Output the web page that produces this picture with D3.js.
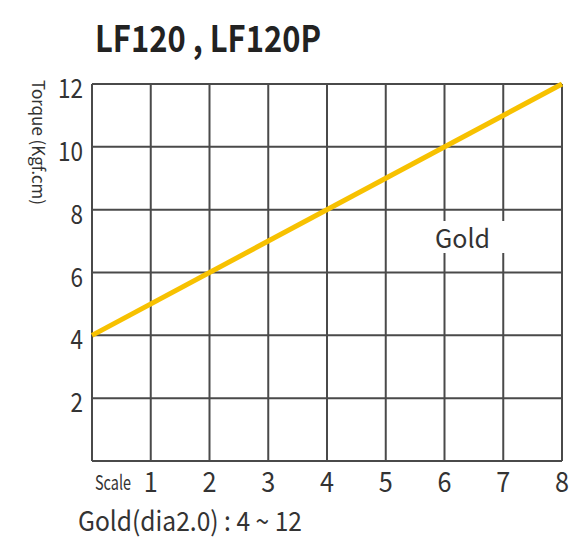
<!DOCTYPE html>
<html>
<head>
<meta charset="utf-8">
<script src="https://cdn.jsdelivr.net/npm/d3@7"></script>
<style>
body{margin:0;background:#fff}
text{font-family:"Noto Sans CJK KR","Noto Sans",sans-serif;fill:#333}
</style>
</head>
<body>
<div id="chart"></div>
<script>
// chart data
var title = "LF120 , LF120P"
var yLabel = "Torque (Kgf.cm)"
var scales = [0, 1, 2, 3, 4, 5, 6, 7, 8]
var torqueTicks = [2, 4, 6, 8, 10, 12]
var goldScale = [0, 8]
var goldTorque = [4, 12]
var seriesName = "Gold"
var note = "Gold(dia2.0) : 4 ~ 12"

var W = 586, H = 538
var margin = {top: 84, right: 24, bottom: 77, left: 92}

var svg = d3.select("#chart").append("svg")
	.attr("width", W)
	.attr("height", H)

var x = d3.scaleLinear().domain([0, 8]).range([margin.left, W - margin.right])
var y = d3.scaleLinear().domain([0, 12]).range([H - margin.bottom, margin.top])

// grid
var grid = svg.append("g").attr("stroke", "#4a4a4a").attr("stroke-width", 2)
grid.selectAll(".v").data(scales).enter().append("line")
	.attr("x1", d => x(d)).attr("x2", d => x(d))
	.attr("y1", y(0)).attr("y2", y(12))
grid.selectAll(".h").data([0].concat(torqueTicks)).enter().append("line")
	.attr("y1", d => y(d)).attr("y2", d => y(d))
	.attr("x1", x(0)).attr("x2", x(8))

// gold line
var pts = goldScale.map((s, i) => [s, goldTorque[i]])
svg.append("path")
	.datum(pts)
	.attr("fill", "none")
	.attr("stroke", "#f7c100")
	.attr("stroke-width", 5)
	.attr("d", d3.line().x(d => x(d[0])).y(d => y(d[1])))

// series label, white box cuts the grid
svg.append("rect")
	.attr("x", 433).attr("y", 221)
	.attr("width", 78).attr("height", 32)
	.attr("fill", "#fff")
svg.append("text")
	.attr("x", 435).attr("y", 248)
	.attr("font-size", 26)
	.attr("textLength", 55).attr("lengthAdjust", "spacingAndGlyphs")
	.text(seriesName)

// y ticks
svg.selectAll(".yt").data(torqueTicks).enter().append("text")
	.attr("x", margin.left - 9)
	.attr("y", d => y(d) + 14)
	.attr("text-anchor", "end")
	.attr("font-size", 26)
	.attr("textLength", d => String(d).length * 12.5).attr("lengthAdjust", "spacingAndGlyphs")
	.text(d => d)

// x ticks
svg.selectAll(".xt").data(scales.slice(1)).enter().append("text")
	.attr("x", d => x(d))
	.attr("y", H - margin.bottom + 31)
	.attr("text-anchor", "middle")
	.attr("font-size", 28)
	.attr("textLength", 14).attr("lengthAdjust", "spacingAndGlyphs")
	.text(d => d)

svg.append("text")
	.attr("x", 95).attr("y", H - margin.bottom + 29)
	.attr("font-size", 20)
	.attr("textLength", 36).attr("lengthAdjust", "spacingAndGlyphs")
	.text("Scale")

// note
svg.append("text")
	.attr("x", 78).attr("y", 531)
	.attr("font-size", 27)
	.attr("textLength", 224).attr("lengthAdjust", "spacingAndGlyphs")
	.text(note)

// axis label
svg.append("text")
	.attr("transform", "translate(32,80) rotate(90)")
	.attr("font-size", 17)
	.attr("textLength", 125).attr("lengthAdjust", "spacingAndGlyphs")
	.text(yLabel)

// title
svg.append("text")
	.attr("x", 95).attr("y", 52)
	.attr("font-size", 36)
	.attr("font-weight", "bold")
	.attr("textLength", 226).attr("lengthAdjust", "spacingAndGlyphs")
	.style("fill", "#222")
	.text(title)
</script>
</body>
</html>
